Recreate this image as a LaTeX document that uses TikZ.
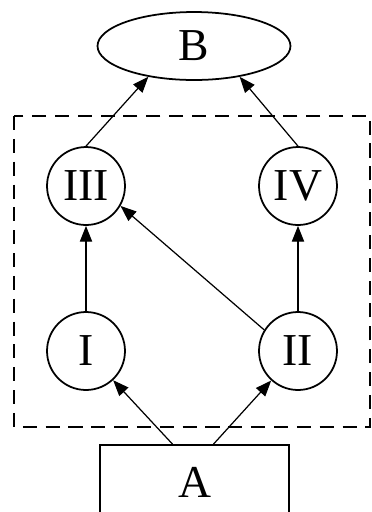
\documentclass[tikz,border=0pt]{standalone}
\usepackage{fontspec}
\setmainfont{Liberation Serif}
\usetikzlibrary{shapes, positioning, arrows.meta}

\begin{document}
\begin{tikzpicture}[
		x=0.02cm, y=-0.02cm,
		stage/.style={draw, circle, line width=1pt, minimum size=1.56cm, inner sep=0pt, font=\fontsize{26}{28}\selectfont},
		goal/.style={draw, ellipse, line width=1pt, minimum width=3.86cm, minimum height=1.36cm, inner sep=0pt, font=\fontsize{26}{28}\selectfont},
		source/.style={draw, rectangle, line width=1pt, minimum width=3.78cm, minimum height=1.48cm, inner sep=0pt, font=\fontsize{26}{28}\selectfont},
		arrow/.style={-{Triangle[length=9pt, width=7pt]}, line width=0.7pt},
		group/.style={draw, dashed, line width=1pt, dash pattern=on 8pt off 5pt}
		]
		\useasboundingbox (0,0) rectangle (372,512);
		
		% Dashed group
		\draw[group] (14,116) rectangle (370,427);
		
		% Nodes
		\node[goal] (B) at (194,46) {B};
		\node[stage] (III) at (86,186) {III};
		\node[stage] (IV) at (298,186) {IV};
		\node[stage] (I) at (86,351) {I};
		\node[stage] (II) at (298,351) {II};
		\node[source] (A) at (194.5,482) {A};
		
		% Arrows
		\draw[arrow] ([xshift=-0.44cm]A.north) -- (I);
		\draw[arrow] ([xshift=0.38cm]A.north) -- (II);
		\draw[arrow] (I) -- (III);
		\draw[arrow] (II) -- (IV);
		\draw[arrow] (II.148) -- (III.330);
		\draw[arrow] (III.north) -- (B.214);
		\draw[arrow] (IV.north) -- (B.326);
	\end{tikzpicture}
\end{document}
